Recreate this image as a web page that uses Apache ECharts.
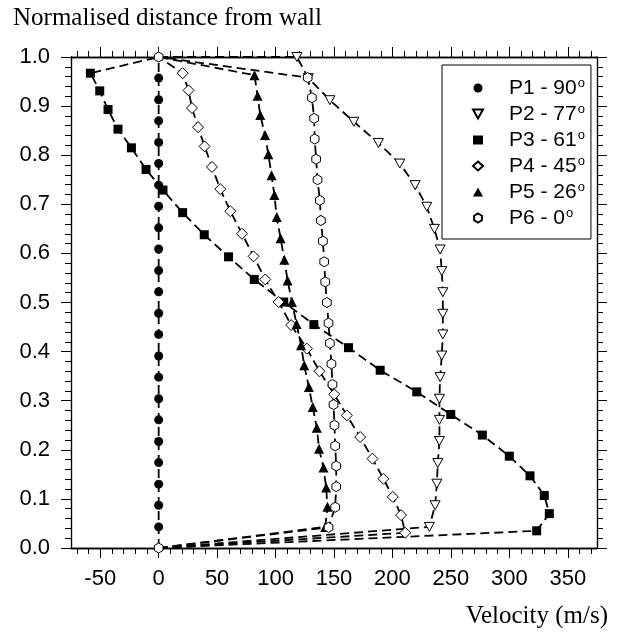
<!DOCTYPE html>
<html>
<head>
<meta charset="utf-8">
<script src="https://cdn.jsdelivr.net/npm/echarts@6/dist/echarts.min.js"></script>
<style>
	html, body { margin: 0; padding: 0; background: #fff; }
	#chart { width: 618px; height: 635px; }
</style>
</head>
<body>
<div id="chart"></div>
<script>
	// velocity (m/s) and normalised distance from wall
	const p1Velocity = [0, 0, 0, 0, 0, 0, 0, 0, 0, 0, 0, 0, 0, 0, 0, 0, 0, 0, 0, 0, 0, 0, 0, 0];
	const p1Distance = [0, 0.043, 0.087, 0.130, 0.174, 0.217, 0.261, 0.304, 0.348, 0.391, 0.435, 0.478, 0.522, 0.565, 0.609, 0.652, 0.696, 0.739, 0.783, 0.826, 0.870, 0.913, 0.957, 1.0];

	const p2Velocity = [0, 231.6, 236.5, 238, 238.8, 240.2, 240.2, 240.2, 240.8, 242.2, 243.1, 243.1, 243.1, 242.2, 240.8, 235.9, 229.4, 219.4, 206.3, 188, 167, 146.5, 128, 118.3, 0];
	const p2Distance = [0, 0.043, 0.087, 0.131, 0.173, 0.218, 0.261, 0.304, 0.348, 0.392, 0.435, 0.477, 0.521, 0.564, 0.608, 0.650, 0.695, 0.739, 0.783, 0.825, 0.868, 0.912, 0.957, 1.0, 1.0];

	const p3Velocity = [0, 323.4, 334.2, 329.9, 317.7, 300, 276.9, 249.9, 220.8, 189.5, 162.4, 132.8, 107, 81.8, 59.8, 39, 20.5, 3.7, -10.8, -23.3, -34.8, -43.3, -50.4, -58.4, 0];
	const p3Distance = [0, 0.035, 0.070, 0.107, 0.147, 0.187, 0.230, 0.272, 0.318, 0.362, 0.408, 0.455, 0.501, 0.547, 0.593, 0.638, 0.683, 0.729, 0.771, 0.815, 0.853, 0.893, 0.931, 0.967, 1.0];

	const p4Velocity = [0, 210.9, 207.4, 200.3, 192.3, 182.9, 172.4, 161, 150.2, 137.6, 126.8, 113.4, 102.6, 91.2, 81.2, 71.3, 61.3, 52.7, 45.6, 39.3, 33.7, 28.5, 25.6, 20.5, 0];
	const p4Distance = [0, 0.031, 0.067, 0.104, 0.141, 0.182, 0.226, 0.270, 0.313, 0.360, 0.406, 0.454, 0.501, 0.547, 0.594, 0.640, 0.686, 0.731, 0.776, 0.818, 0.857, 0.896, 0.932, 0.967, 1.0];

	const p5Velocity = [0, 142.5, 144.4, 143.3, 141, 137.2, 135.3, 131.8, 128.5, 124.5, 121.8, 118, 114, 110.3, 107.5, 104.3, 101, 99, 96.6, 93.8, 91, 86.9, 84.6, 82, 0];
	const p5Distance = [0, 0.043, 0.084, 0.123, 0.164, 0.202, 0.245, 0.287, 0.328, 0.372, 0.413, 0.456, 0.501, 0.545, 0.587, 0.631, 0.674, 0.719, 0.759, 0.802, 0.841, 0.882, 0.921, 0.963, 1.0];

	const p6Velocity = [0, 145.3, 151, 151.9, 151.9, 151, 150.4, 149.6, 148.7, 147.8, 146.5, 145.3, 143.9, 142.5, 141.6, 140.5, 138.8, 137.9, 135.9, 134.7, 133.5, 133, 131.1, 127.5, 0];
	const p6Distance = [0, 0.042, 0.083, 0.125, 0.167, 0.208, 0.250, 0.292, 0.333, 0.375, 0.417, 0.458, 0.500, 0.542, 0.583, 0.625, 0.667, 0.708, 0.750, 0.792, 0.833, 0.875, 0.917, 0.958, 1.0];

	const seriesNames = ['P1 - 90', 'P2 - 77', 'P3 - 61', 'P4 - 45', 'P5 - 26', 'P6 - 0'];
	const xMajorTicks = [-50, 0, 50, 100, 150, 200, 250, 300, 350];
	const xMinorTicks = [-70, -60, -40, -30, -20, -10, 10, 20, 30, 40, 60, 70, 80, 90, 110, 120, 130, 140, 160, 170, 180, 190, 210, 220, 230, 240, 260, 270, 280, 290, 310, 320, 330, 340, 360, 370];

	const HEX = 'path://M0,-10L8.66,-5L8.66,5L0,10L-8.66,5L-8.66,-5Z';
	const TRI_DOWN = 'path://M0,0L10,0L5,9Z';
	const sansFont = "'Liberation Sans Narrow', 'Liberation Sans', Arial, sans-serif";
	const serifFont = "'Liberation Serif', 'Times New Roman', serif";

	function pairs(xs, ys, endMarks) {
		return xs.map((x, i) => {
			let item = {value: [x, ys[i]]};
			// the wall points (0,0) and (0,1) only carry the P6 marker
			if (!endMarks && x === 0 && (ys[i] === 0 || ys[i] === 1)) item.symbol = 'none';
			return item;
		});
	}

	function lineSeries(name, xs, ys, symbol, size, filled, endMarks) {
		return {
			name: name,
			type: 'line',
			data: pairs(xs, ys, endMarks),
			symbol: symbol,
			symbolSize: size,
			symbolKeepAspect: true,
			showAllSymbol: true,
			clip: false,
			lineStyle: {color: '#000', width: 1.8, type: [9, 5]},
			itemStyle: filled ? {color: '#000', borderColor: '#000', borderWidth: 0}
				: {color: '#fff', borderColor: '#000', borderWidth: 1},
			emphasis: {disabled: true},
			z: 3
		};
	}

	function xAxisOf(position, ticks, len, labels) {
		return {
			type: 'value', position: position, min: -75, max: 375,
			axisLine: {show: true, onZero: false, lineStyle: {color: '#000', width: 1.4}},
			axisTick: {show: true, inside: false, length: len, customValues: ticks, lineStyle: {color: '#000', width: 1}},
			axisLabel: labels ? {show: true, customValues: ticks, margin: 20, color: '#000', fontSize: 22, fontFamily: sansFont}
				: {show: false},
			splitLine: {show: false}
		};
	}

	function yAxisOf(position, labels) {
		return {
			type: 'value', position: position, min: 0, max: 1, interval: 0.1,
			axisLine: {show: true, onZero: false, lineStyle: {color: '#000', width: 1.4}},
			axisTick: {show: true, inside: false, length: 10, lineStyle: {color: '#000', width: 1}},
			minorTick: {show: true, splitNumber: 5, length: 6, lineStyle: {color: '#000', width: 1}},
			axisLabel: labels ? {show: true, margin: 21, color: '#000', fontSize: 22, fontFamily: sansFont,
				formatter: v => v.toFixed(1)} : {show: false},
			splitLine: {show: false}
		};
	}

	let chart = echarts.init(document.getElementById('chart'));
	const option = {
		animation: false,
		backgroundColor: '#fff',
		title: [
			{text: 'Normalised distance from wall', left: 13, top: 6, padding: 0,
				textStyle: {fontFamily: serifFont, fontSize: 25, fontWeight: 'normal', color: '#000'}},
			{text: 'Velocity (m/s)', right: 10, top: 604, padding: 0,
				textStyle: {fontFamily: serifFont, fontSize: 25, fontWeight: 'normal', color: '#000'}}
		],
		grid: {left: 71, right: 21, top: 57, bottom: 87},
		xAxis: [
			xAxisOf('bottom', xMajorTicks, 10, true),
			xAxisOf('bottom', xMinorTicks, 6, false),
			xAxisOf('top', xMajorTicks, 10, false),
			xAxisOf('top', xMinorTicks, 6, false)
		],
		yAxis: [yAxisOf('left', true), yAxisOf('right', false)],
		legend: {
			orient: 'vertical',
			left: 442, top: 65,
			padding: [12, 6, 10, 30],
			borderColor: '#000', borderWidth: 1,
			itemWidth: 10, itemHeight: 9, itemGap: 4,
			selectedMode: false,
			data: [
				{name: seriesNames[0], icon: 'circle'},
				{name: seriesNames[1], icon: TRI_DOWN},
				{name: seriesNames[2], icon: 'rect'},
				{name: seriesNames[3], icon: 'diamond'},
				{name: seriesNames[4], icon: 'triangle'},
				{name: seriesNames[5], icon: HEX}
			],
			formatter: name => name + '{s|o}',
			textStyle: {
				color: '#000', fontSize: 21, fontFamily: sansFont, lineHeight: 22, padding: [0, 0, 0, 21],
				rich: {s: {fontSize: 13, fontFamily: sansFont, color: '#000', padding: [0, 0, 9, 1]}}
			}
		},
		series: [
			lineSeries(seriesNames[0], p1Velocity, p1Distance, 'circle', 9, true, false),
			lineSeries(seriesNames[1], p2Velocity, p2Distance, TRI_DOWN, 10, false, false),
			lineSeries(seriesNames[2], p3Velocity, p3Distance, 'rect', 9, true, false),
			lineSeries(seriesNames[3], p4Velocity, p4Distance, 'diamond', 11, false, false),
			lineSeries(seriesNames[4], p5Velocity, p5Distance, 'triangle', 10, true, false),
			lineSeries(seriesNames[5], p6Velocity, p6Distance, HEX, 10, false, true)
		]
	};
	chart.setOption(option);
	window.addEventListener('resize', () => {
		chart.resize();
	});
</script>
</body>
</html>
